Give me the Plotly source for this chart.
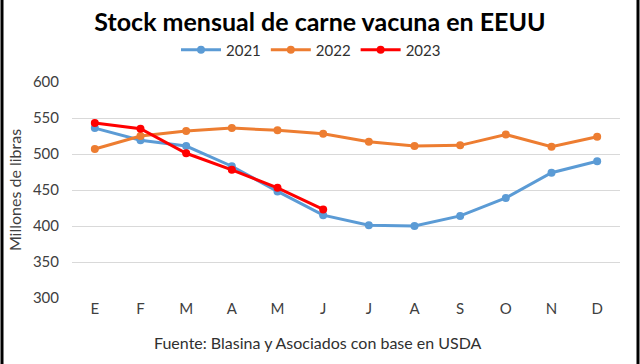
import plotly.graph_objects as go

months = ["E", "F", "M", "A", "M ", "J", "J ", "A ", "S", "O", "N", "D"]
tick_labels = ["E", "F", "M", "A", "M", "J", "J", "A", "S", "O", "N", "D"]
y2021 = [536, 519, 511, 483, 448, 415, 401, 400, 414, 439, 474, 490]
y2022 = [507, 525, 532, 536, 533, 528, 517, 511, 512, 527, 510, 524]
y2023 = [543, 535, 501, 478, 453, 423]

W, H = 640, 364
L, R, T, B = 72, 20, 82, 66
pw, ph = W - L - R, H - T - B

def px_x(p):
    return (p - L) / pw

def px_y(p):
    return (H - B - p) / ph

FONT = "Lato, 'Open Sans', sans-serif"

fig = go.Figure()
for name, vals, col in [("2021", y2021, "#5B9BD5"), ("2022", y2022, "#ED7D31"), ("2023", y2023, "#FF0000")]:
    fig.add_trace(go.Scatter(
        x=months[:len(vals)], y=vals, name=name, mode="lines+markers",
        line=dict(color=col, width=3), marker=dict(color=col, size=8),
    ))

fig.update_layout(
    width=W, height=H,
    margin=dict(l=L, r=R, t=T, b=B, autoexpand=False),
    paper_bgcolor="white", plot_bgcolor="white",
    font=dict(family=FONT, color="#404040", size=14),
    title=dict(text="<b>Stock mensual de carne vacuna en EEUU</b>", x=0.5, xref="container",
               y=1 - 22 / H, yanchor="middle", font=dict(size=25, color="black", family=FONT)),
    legend=dict(orientation="h", x=px_x(311), xanchor="center", y=px_y(50), yanchor="middle",
                font=dict(size=15, color="#303030"), itemwidth=40, bgcolor="rgba(0,0,0,0)"),
    xaxis=dict(categoryorder="array", categoryarray=months, tickvals=months, ticktext=tick_labels,
               range=[-0.5, 11.5], showgrid=False, showline=False, ticks="", automargin=False,
               tickfont=dict(size=15, color="#404040")),
    yaxis=dict(range=[300, 600], dtick=50, showgrid=True, gridcolor="#D9D9D9", gridwidth=1,
               zeroline=False, showline=False, ticks="", ticklabelstandoff=12, automargin=False,
               tickfont=dict(size=15, color="#404040"),
               title=dict(text="Millones de libras", font=dict(size=16, color="#404040"), standoff=7)),
    showlegend=True,
)

fig.add_annotation(text="Fuente: Blasina y Asociados con base en USDA", xref="paper", yref="paper",
                   x=px_x(318), y=px_y(342), xanchor="center", yanchor="middle", showarrow=False,
                   font=dict(size=16, color="#303030"))

for xp in (2, 638):
    fig.add_shape(type="line", xref="paper", yref="paper", layer="above",
                  x0=px_x(xp), x1=px_x(xp), y0=px_y(-2), y1=px_y(H + 2),
                  line=dict(color="black", width=3))

fig.write_html("out.html", config={"displayModeBar": False},
               post_script="document.body.style.margin='0';document.body.style.overflow='hidden';")
